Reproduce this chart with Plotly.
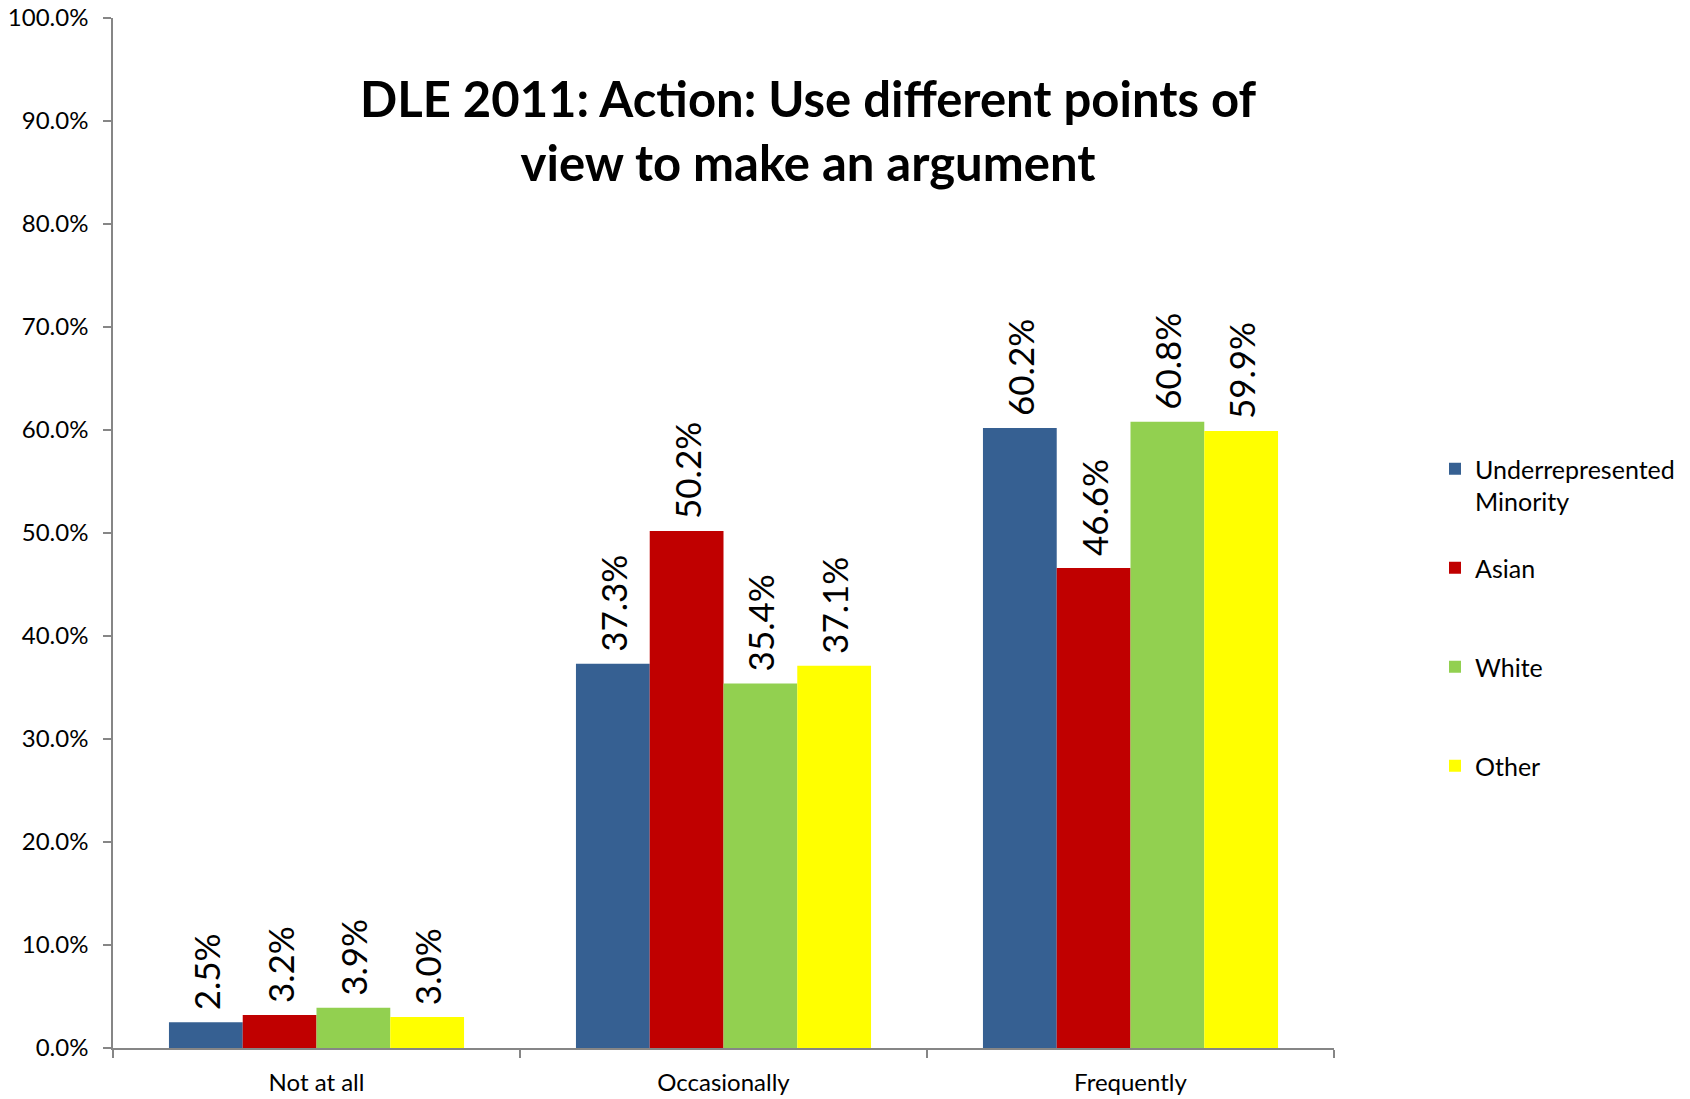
import plotly.graph_objects as go

# Data
CATEGORIES = ["Not at all", "Occasionally", "Frequently"]
GROUP_NAMES = ["Underrepresented<br>Minority", "Asian", "White", "Other"]
URM = [0.025, 0.373, 0.602]
ASIAN = [0.032, 0.502, 0.466]
WHITE = [0.039, 0.354, 0.608]
OTHER = [0.030, 0.371, 0.599]
SERIES = [URM, ASIAN, WHITE, OTHER]

COLORS = ["rgb(54, 96, 146)", "rgb(192, 0, 0)", "rgb(146, 208, 80)", "rgb(255, 255, 0)"]
FONT = "Lato"
AXIS_GRAY = "rgb(134, 134, 134)"

W, H = 1690, 1099
PLOT_L, PLOT_R, PLOT_T, PLOT_B = 113, 1334, 18, 1048

fig = go.Figure()

for i, (name, values) in enumerate(zip(GROUP_NAMES, SERIES)):
    # pad single-line legend entries so every entry has the same height
    legend_name = name if "<br>" in name else name + "<br>\u00a0"
    fig.add_trace(go.Bar(
        x=CATEGORIES, y=values, name=legend_name,
        legendgroup=f"g{i}",
        marker=dict(color=COLORS[i], line=dict(width=0)),
        text=[f"\u00a0{v * 100:.1f}%" for v in values],
        textposition="outside", textangle=-90,
        textfont=dict(family=FONT, size=35, color="black"),
        constraintext="none", cliponaxis=False,
        hoverinfo="skip",
    ))

fig.update_layout(
    width=W, height=H,
    margin=dict(l=PLOT_L, r=W - PLOT_R, t=PLOT_T, b=H - PLOT_B, autoexpand=False),
    barmode="group", bargap=0.275, bargroupgap=0,
    plot_bgcolor="white", paper_bgcolor="white",
    font=dict(family=FONT, size=24, color="black"),
    title=dict(
        text="<b>DLE 2011: Action: Use different points of<br>view to make an argument</b>",
        font=dict(family=FONT, size=49, color="black"),
        x=808 / W, xanchor="center", xref="container",
        y=1 - 117 / H, yanchor="top", yref="container",
    ),
    legend=dict(
        x=1435 / W, xref="container", xanchor="left",
        y=1 - 446 / H, yref="container", yanchor="top",
        font=dict(family=FONT, size=25, color="black"),
        valign="top", tracegroupgap=31, traceorder="grouped",
        bgcolor="rgba(0,0,0,0)",
    ),
    showlegend=True,
)

fig.update_xaxes(
    showline=True, linecolor=AXIS_GRAY, linewidth=2,
    ticks="outside", tickson="boundaries", ticklen=8, tickcolor=AXIS_GRAY, tickwidth=1.5,
    showgrid=False, tickfont=dict(family=FONT, size=24, color="black"),
    ticklabelstandoff=12,
    fixedrange=True,
)
fig.update_yaxes(
    range=[0, 1], dtick=0.1, tickformat=".1%",
    showline=True, linecolor=AXIS_GRAY, linewidth=1.5,
    ticks="outside", ticklen=8, tickcolor=AXIS_GRAY, tickwidth=1.5,
    showgrid=False, zeroline=False,
    tickfont=dict(family=FONT, size=24, color="black"),
    ticklabelstandoff=10, ticklabeloverflow="allow",
    fixedrange=True,
)

# drop the default page margin so the figure fills the window from its corner
fig.write_html(
    "out.html",
    config={"displayModeBar": False},
    post_script="document.body.style.margin = '0';",
)
